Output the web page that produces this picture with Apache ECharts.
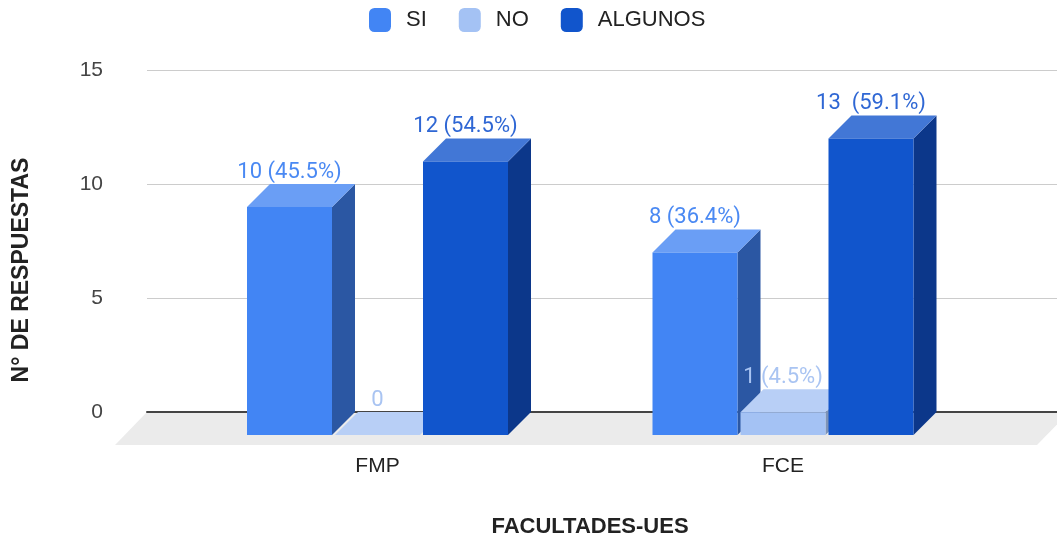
<!DOCTYPE html>
<html>
<head>
<meta charset="utf-8">
<script src="https://cdn.jsdelivr.net/npm/echarts@6/dist/echarts.min.js"></script>
<style>
  html, body { margin: 0; padding: 0; background: #fff; }
  #chart { width: 1057px; height: 542px; }
</style>
</head>
<body>
<div id="chart"></div>
<script>
// data
var categories = ['FMP', 'FCE'];
var seriesNames = ['SI', 'NO', 'ALGUNOS'];
var siValues = [10, 8];
var noValues = [0, 1];
var algunosValues = [12, 13];
var siLabels = ['10 (45.5%)', '8 (36.4%)'];
var noLabels = ['0', '1 (4.5%)'];
var algunosLabels = ['12 (54.5%)', '13  (59.1%)'];
var yMin = 0, yMax = 15, yStep = 5;

// look of the 3d bars
var BAR_W = 85, BAR_GAP = 3, DEPTH = 23;
var palettes = [
  { front: '#4285f4', top: '#6a9ef5', side: '#2b57a3', label: '#4a89f3' },
  { front: '#a4c2f4', top: '#b8cff6', side: '#7d93b8', label: '#a9c4f2' },
  { front: '#1155cc', top: '#4277d6', side: '#0c378a', label: '#2f67d4' }
];

var chart = echarts.init(document.getElementById('chart'));

function barRender(k, labels) {
  var pal = palettes[k];
  return function (params, api) {
    var cat = api.value(0);
    var val = api.value(1);
    var base = api.coord([cat, 0]);
    var top = api.coord([cat, val]);
    var cx = base[0] + (k - 1) * (BAR_W + BAR_GAP);
    var x0 = cx - BAR_W / 2, x1 = cx + BAR_W / 2;
    var yb = base[1], yt = top[1], d = DEPTH;
    return {
      type: 'group',
      children: [
        { type: 'polygon', shape: { points: [[x1, yb], [x1 + d, yb - d], [x1 + d, yt - d], [x1, yt]] },
          style: { fill: pal.side } },
        { type: 'polygon', shape: { points: [[x0, yt], [x1, yt], [x1 + d, yt - d], [x0 + d, yt - d]] },
          style: { fill: pal.top } },
        { type: 'rect', shape: { x: x0, y: yt, width: BAR_W, height: yb - yt },
          style: { fill: pal.front } },
        { type: 'text', x: cx, y: yt - d - 1,
          style: { text: labels[params.dataIndex], fill: pal.label, fontSize: 22,
                   fontFamily: 'Roboto', align: 'center', verticalAlign: 'bottom' } }
      ]
    };
  };
}

function floorRender(params, api) {
  var cs = params.coordSys;
  var yBack = cs.y + cs.height;
  var xl = cs.x, xr = cs.x + cs.width + 12;
  return {
    type: 'polygon',
    shape: { points: [[xl, yBack], [xr, yBack], [xr - 32, yBack + 33], [xl - 32, yBack + 33]] },
    style: { fill: '#ebebeb' }
  };
}

var valueSets = [siValues, noValues, algunosValues];
var labelSets = [siLabels, noLabels, algunosLabels];

var barSeries = seriesNames.map(function (name, k) {
  return {
    name: name,
    type: 'custom',
    xAxisIndex: 1,
    yAxisIndex: 1,
    z: 2,
    itemStyle: { color: palettes[k].front },
    renderItem: barRender(k, labelSets[k]),
    data: categories.map(function (c, i) { return [i, valueSets[k][i]]; })
  };
});

var option = {
  animation: false,
  legend: {
    data: seriesNames,
    top: 8,
    left: 369,
    padding: 0,
    icon: 'roundRect',
    itemWidth: 22,
    itemHeight: 24,
    itemGap: 32,
    textStyle: { fontSize: 22, color: '#222', fontFamily: 'Liberation Sans', padding: [0, 0, 0, 10] }
  },
  grid: [
    { left: 147, right: 0, top: 70, bottom: 130 },
    { left: 174.75, right: 71.25, top: 93, bottom: 107 }
  ],
  xAxis: [
    { type: 'category', gridIndex: 0, data: [''], z: 1,
      axisLine: { show: true, lineStyle: { color: '#444', width: 2 } },
      axisTick: { show: false }, axisLabel: { show: false } },
    { type: 'category', gridIndex: 1, data: categories,
      axisLine: { show: false }, axisTick: { show: false },
      axisLabel: { margin: 21, fontSize: 21, color: '#222', fontFamily: 'Liberation Sans' } }
  ],
  yAxis: [
    { type: 'value', gridIndex: 0, min: yMin, max: yMax, interval: yStep,
      axisLine: { show: false }, axisTick: { show: false },
      axisLabel: { margin: 44, fontSize: 21, color: '#444', fontFamily: 'Liberation Sans' },
      splitLine: { lineStyle: { color: '#cccccc', width: 1 } } },
    { type: 'value', gridIndex: 1, min: yMin, max: yMax, interval: yStep, show: false,
      splitLine: { show: false } }
  ],
  graphic: [
    { type: 'text', x: 22, y: 270, rotation: Math.PI / 2,
      style: { text: 'N° DE RESPUESTAS', font: 'bold 23px "Liberation Sans"', fill: '#222',
               align: 'center', verticalAlign: 'middle' } },
    { type: 'text', x: 590, y: 527,
      style: { text: 'FACULTADES-UES', font: 'bold 22px "Liberation Sans"', fill: '#222',
               align: 'center', verticalAlign: 'middle' } }
  ],
  series: [
    { type: 'custom', xAxisIndex: 0, yAxisIndex: 0, z: 0, silent: true,
      renderItem: floorRender, data: [[0, 0]] }
  ].concat(barSeries)
};

chart.setOption(option);
</script>
</body>
</html>
